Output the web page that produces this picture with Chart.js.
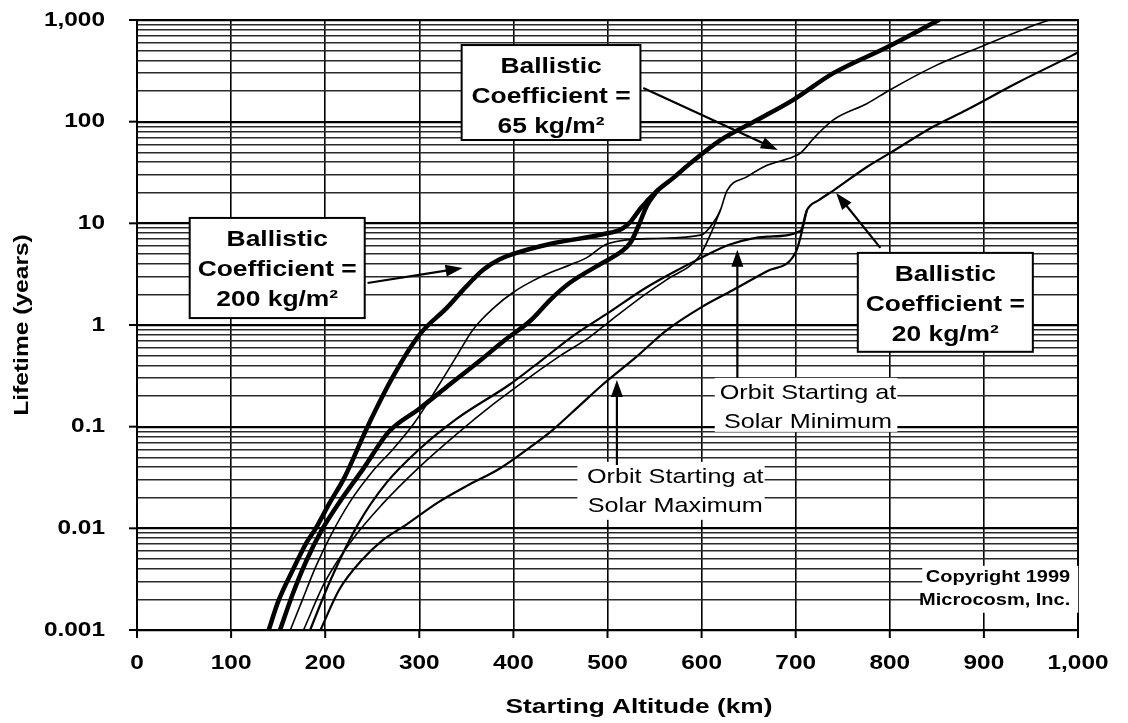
<!DOCTYPE html>
<html><head><meta charset="utf-8">
<script src="https://cdn.jsdelivr.net/npm/chart.js@4/dist/chart.umd.min.js"></script>
<style>html,body{margin:0;padding:0;background:#fff}#wrap{width:1128px;height:723px}</style>
</head><body><div id="wrap"><canvas id="c" width="1128" height="723"></canvas></div>
<script>
// ---------- data (altitude km, lifetime years) ----------
const xTickValues = [0,100,200,300,400,500,600,700,800,900,1000];
const xTickLabels = ['0','100','200','300','400','500','600','700','800','900','1,000'];
const yTickValues = [0.001,0.01,0.1,1,10,100,1000];
const yTickLabels = ['0.001','0.01','0.1','1','10','100','1,000'];

const bc200MinAlt = [140,150,165,180,190,205,220,245,272,300,330,350,368,385,400,440,495,515,525,535,553,570,588,620,660,697,740,797,852];
const bc200MinYrs = [0.001,0.0019,0.0038,0.0072,0.0100,0.018,0.031,0.10,0.31,0.80,1.5,2.4,3.5,4.4,5.0,6.3,7.8,8.8,10.5,14,21,28,39,66,105,163,300,540,1000];

const bc200MaxAlt = [152,165,180,196,215,240,268,300,330,365,390,418,440,460,495,515,525,533,542,553];
const bc200MaxYrs = [0.001,0.0022,0.0048,0.0095,0.018,0.038,0.09,0.15,0.25,0.45,0.70,1.1,1.8,2.6,4.1,5.3,6.6,9.5,15,21];

const bc65MinAlt = [163,175,190,205,226,250,272,295,320,340,357,380,400,420,440,460,478,500,550,600,612,620,627,648,669,697,705,720,740,776,800,846,896,952,970];
const bc65MinYrs = [0.001,0.0019,0.0042,0.0082,0.018,0.036,0.06,0.11,0.25,0.5,0.9,1.5,2.1,2.7,3.3,3.9,4.6,6.3,7.1,7.7,10,13.5,21,28.6,37,45,49,70,104,151,205,346,543,880,1000];

const bc65MaxAlt = [177,200,230,260,300,340,380,420,450,481,503,540,563,598,610,620];
const bc65MaxYrs = [0.001,0.003,0.008,0.017,0.04,0.085,0.17,0.32,0.5,0.76,1.1,2.0,2.8,4.8,8,13.5];

const bc20MinAlt = [184,205,235,265,300,340,396,430,465,500,540,570,600,630,670,705,712,725,740,776,800,846,882,935,995,1000];
const bc20MinYrs = [0.001,0.003,0.011,0.028,0.06,0.12,0.26,0.45,0.8,1.3,2.3,3.3,4.6,6.2,7.4,8.4,13.5,17,21,36,49,89,131,240,454,480];

const bc20MaxAlt = [195,215,240,260,287,320,350,386,420,440,470,495,530,563,600,633,670,700,712];
const bc20MaxYrs = [0.001,0.0025,0.005,0.0075,0.011,0.018,0.026,0.039,0.065,0.09,0.16,0.26,0.48,0.89,1.5,2.2,3.4,5.2,13.5];

// minor + major horizontal grid values
const yGridValues = [];
for (let e = -3; e <= 2; e++) for (let m = 1; m <= 9; m++) yGridValues.push(+(m * Math.pow(10, e)).toPrecision(3));
yGridValues.push(1000);

const pts = (a, y) => a.map((v, i) => ({x: v, y: y[i]}));
const series = [
  {d: pts(bc200MinAlt, bc200MinYrs), w: 4.5},
  {d: pts(bc200MaxAlt, bc200MaxYrs), w: 4.5},
  {d: pts(bc65MinAlt, bc65MinYrs), w: 1.6},
  {d: pts(bc65MaxAlt, bc65MaxYrs), w: 1.6},
  {d: pts(bc20MinAlt, bc20MinYrs), w: 2.2},
  {d: pts(bc20MaxAlt, bc20MaxYrs), w: 2.2}
];

// ---------- annotations (in data coordinates) ----------
const boxes = [
  {a0: 56, a1: 242, y0: 11.3, y1: 1.17, lines: ['Ballistic', 'Coefficient =', '200 kg/m\u00B2']},
  {a0: 345, a1: 535, y0: 567, y1: 66, lines: ['Ballistic', 'Coefficient =', '65 kg/m\u00B2']},
  {a0: 766, a1: 952, y0: 5.12, y1: 0.545, lines: ['Ballistic', 'Coefficient =', '20 kg/m\u00B2']}
];
const labels = [
  {a0: 614, a1: 808, y0: 0.302, y1: 0.0889, ac: 713, lines: ['Orbit Starting at', 'Solar Minimum']},
  {a0: 468, a1: 667, y0: 0.0451, y1: 0.01213, ac: 572, lines: ['Orbit Starting at', 'Solar Maximum']}
];
const arrows = [
  {a0: 245, y0: 2.59, a1: 346, y1: 3.64},
  {a0: 538, y0: 214, a1: 681, y1: 52.7},
  {a0: 790, y0: 5.73, a1: 743, y1: 19.9},
  {a0: 638, y0: 0.302, a1: 638, y1: 5.49},
  {a0: 510, y0: 0.042, a1: 510, y1: 0.288}
];

function sText(ctx, s, x, y, sx, align) {
  ctx.save(); ctx.translate(x, y); ctx.scale(sx, 1); ctx.textAlign = align; ctx.fillText(s, 0, 0); ctx.restore();
}
function arrow(ctx, x1, y1, x2, y2) {
  const ang = Math.atan2(y2 - y1, x2 - x1), L = 17, W = 6;
  ctx.beginPath(); ctx.moveTo(x1, y1); ctx.lineTo(x2 - Math.cos(ang) * L * 0.8, y2 - Math.sin(ang) * L * 0.8); ctx.lineWidth = 2.2; ctx.stroke();
  ctx.beginPath(); ctx.moveTo(x2, y2);
  ctx.lineTo(x2 - Math.cos(ang) * L - Math.sin(ang) * W, y2 - Math.sin(ang) * L + Math.cos(ang) * W);
  ctx.lineTo(x2 - Math.cos(ang) * L + Math.sin(ang) * W, y2 - Math.sin(ang) * L - Math.cos(ang) * W);
  ctx.closePath(); ctx.fill();
}

const decor = {
  id: 'decor',
  afterDraw(chart) {
    const ctx = chart.ctx, xs = chart.scales.x, ys = chart.scales.y, ca = chart.chartArea;
    const X = v => xs.getPixelForValue(v), Y = v => ys.getPixelForValue(v);
    ctx.save();
    ctx.fillStyle = '#000'; ctx.strokeStyle = '#000';
    ctx.lineWidth = 2; ctx.strokeRect(ca.left, ca.top, ca.right - ca.left, ca.bottom - ca.top);
    ctx.textBaseline = 'middle';
    ctx.font = 'bold 20px "Liberation Sans", Arial, sans-serif';
    yTickValues.forEach((v, i) => {
      const py = Y(v);
      ctx.beginPath(); ctx.moveTo(ca.left - 8, py); ctx.lineTo(ca.left, py); ctx.lineWidth = 2; ctx.stroke();
      sText(ctx, yTickLabels[i], ca.left - 32, py, 1.22, 'right');
    });
    xTickValues.forEach((v, i) => {
      const px = X(v);
      ctx.beginPath(); ctx.moveTo(px, ca.bottom); ctx.lineTo(px, ca.bottom + 8); ctx.lineWidth = 2; ctx.stroke();
      sText(ctx, xTickLabels[i], px, ca.bottom + 33, 1.22, 'center');
    });
    ctx.font = 'bold 21px "Liberation Sans", Arial, sans-serif';
    sText(ctx, 'Starting Altitude (km)', 639, 707, 1.25, 'center');
    ctx.save(); ctx.translate(22, 325); ctx.rotate(-Math.PI / 2);
    ctx.scale(1.17, 1); ctx.textAlign = 'center'; ctx.fillText('Lifetime (years)', 0, 0); ctx.restore();
    boxes.forEach(b => {
      const x0 = X(b.a0), x1 = X(b.a1), y0 = Y(b.y0), y1 = Y(b.y1);
      ctx.fillStyle = '#fff'; ctx.fillRect(x0, y0, x1 - x0, y1 - y0);
      ctx.lineWidth = 2; ctx.strokeRect(x0, y0, x1 - x0, y1 - y0);
      ctx.fillStyle = '#000'; ctx.font = 'bold 22px "Liberation Sans", Arial, sans-serif';
      b.lines.forEach((s, k) => sText(ctx, s, (x0 + x1) / 2, y0 + 22 + k * 30, 1.2, 'center'));
    });
    labels.forEach(b => {
      const x0 = X(b.a0), x1 = X(b.a1), y0 = Y(b.y0), y1 = Y(b.y1);
      ctx.fillStyle = '#fff'; ctx.fillRect(x0, y0, x1 - x0, y1 - y0);
      ctx.fillStyle = '#000'; ctx.font = '21px "Liberation Sans", Arial, sans-serif';
      b.lines.forEach((s, k) => sText(ctx, s, X(b.ac), y0 + 15 + k * 29, 1.2, 'center'));
    });
    const cx = X(996), cy0 = Y(0.00326), cy1 = Y(0.00194);
    ctx.fillStyle = '#fff'; ctx.fillRect(cx - 152, cy0 - 12, 156, cy1 - cy0 + 24);
    ctx.fillStyle = '#000'; ctx.font = 'bold 16px "Liberation Sans", Arial, sans-serif';
    sText(ctx, 'Copyright 1999', cx - 4, cy0, 1.25, 'right');
    sText(ctx, 'Microcosm, Inc.', cx - 4, cy1, 1.25, 'right');
    arrows.forEach(a => arrow(ctx, X(a.a0), Y(a.y0), X(a.a1), Y(a.y1)));
    ctx.restore();
  }
};

Chart.defaults.font.family = '"Liberation Sans", Arial, sans-serif';
new Chart(document.getElementById('c'), {
  type: 'line',
  data: {
    datasets: series.map(s => ({
      data: s.d, borderColor: '#000', borderWidth: s.w, pointRadius: 0,
      cubicInterpolationMode: 'monotone', fill: false, borderCapStyle: 'round', borderJoinStyle: 'round'
    }))
  },
  options: {
    responsive: false, animation: false, devicePixelRatio: 1,
    layout: {padding: {left: 137, right: 50, top: 20, bottom: 93}},
    plugins: {legend: {display: false}, tooltip: {enabled: false}},
    scales: {
      x: {
        type: 'linear', min: 0, max: 1000,
        afterBuildTicks: sc => { sc.ticks = xTickValues.map(v => ({value: v})); },
        ticks: {display: false},
        grid: {color: '#000', lineWidth: 1.6, drawTicks: false},
        border: {display: true, color: '#000', width: 2}
      },
      y: {
        type: 'logarithmic', min: 0.001, max: 1000,
        afterBuildTicks: sc => { sc.ticks = yGridValues.map(v => ({value: v, major: yTickValues.includes(v)})); },
        ticks: {display: false, autoSkip: false},
        grid: {
          drawTicks: false,
          color: c => (c.tick && c.tick.major) ? '#000' : '#2a2a2a',
          lineWidth: c => (c.tick && c.tick.major) ? 2.2 : 1.4
        },
        border: {display: true, color: '#000', width: 2}
      }
    }
  },
  plugins: [decor]
});
</script></body></html>
